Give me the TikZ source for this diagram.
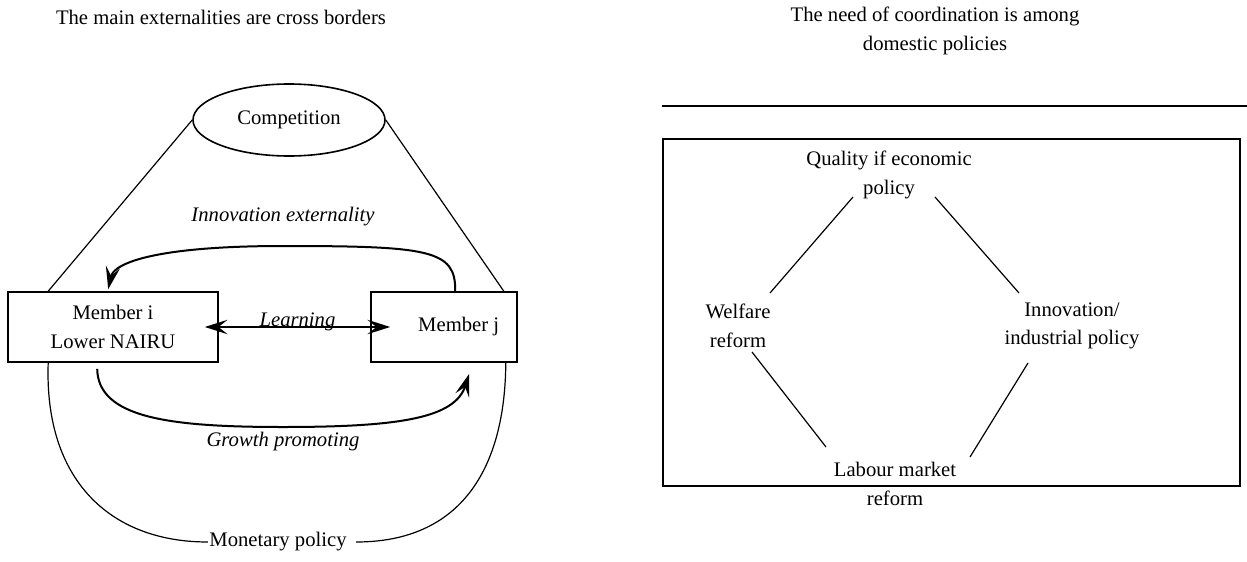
\documentclass[tikz,border=0pt]{standalone}
\usepackage{fontspec}
\setmainfont{Liberation Serif}
\usepackage{tikz}
\usetikzlibrary{positioning, arrows.meta, shapes.geometric, calc}

\begin{document}
\begin{tikzpicture}[
    x=0.75pt, y=-0.75pt,
    txt/.style={font=\fontsize{15.5}{21.5}\selectfont, align=center, inner sep=2pt},
    itxt/.style={txt, font=\fontsize{15.5}{21.5}\selectfont\itshape},
    member/.style={rectangle, draw=black, line width=1.2pt, minimum height=52.5pt,
                   font=\fontsize{15.5}{21.5}\selectfont, align=center},
    link/.style={line width=0.9pt},
    tip/.style={Stealth[length=6mm, width=3.8mm, inset=2.4mm]},
    arrow/.style={-{Stealth[length=6mm, width=3.8mm, inset=2.4mm]}, line width=1.5pt}
]
    \useasboundingbox (0,0) rectangle (1247,561);

    % Titles
    \node[txt] (titleL) at (221,17) {The main externalities are cross borders};
    \node[txt] (titleR) at (935,31) {The need of coordination is among\\domestic policies};

    % ---------------- Left panel ----------------
    % Competition
    \node[ellipse, draw=black, line width=1.2pt, minimum width=144pt, minimum height=54pt,
          txt] (comp) at (289,120) {Competition};

    % Members
    \node[member, minimum width=157.5pt] (mi) at (113,327) {Member i\\Lower NAIRU};
    \node[member, minimum width=109.5pt] (mj) at (444,327) {\hspace*{22pt}Member j};

    % Monetary policy
    \node[txt, inner sep=1pt] (mon) at (278,542) {Monetary policy};

    % Competition links
    \draw[link] (comp.west) -- ($(mi.north west)+(41,0)$);
    \draw[link] (comp.east) -- ($(mj.north east)+(-14,0)$);

    % Learning
    \draw[{Stealth[length=6mm, width=3.8mm, inset=2.4mm]}-{Stealth[length=6mm, width=3.8mm, inset=2.4mm]}, line width=1.5pt]
        ($(mi.east)+(-14,0)$) -- node[itxt, above=-6pt] (learn) {Learning}
        ($(mj.west)+(20,0)$);

    % Innovation externality
    \draw[arrow] ($(mj.north west)+(85,0)$) .. controls (456,250) and (430,246) .. (283,246)
        .. controls (160,246) and (114,262) .. ($(mi.north west)+(101,-2)$);
    \node[itxt] (innov) at (283,217) {Innovation externality};

    % Growth promoting
    \draw[arrow] ($(mi.south west)+(90,6)$) .. controls (98,418) and (170,427) .. (283,427)
        .. controls (400,427) and (455,418) .. ($(mj.south west)+(99,11)$);
    \node[itxt] (growth) at (283,442) {Growth promoting};

    % Monetary policy links
    \draw[link] ($(mi.south west)+(41,0)$) .. controls (44,480) and (110,542) .. (mon.west);
    \draw[link] (mon.east) ++(8,0) .. controls (460,542) and (505,470) .. ($(mj.south east)+(-12,0)$);

    % ---------------- Right panel ----------------
    \draw[line width=1.2pt] (662,106) -- (1247,106);
    \draw[line width=1.2pt] (663,139) rectangle (1240,486);

    \node[txt] (qual) at (889,175) {Quality if economic\\policy};
    \node[txt] (welf) at (738,326) {Welfare\\reform};
    \node[txt] (inno) at (1072,326) {Innovation/\\industrial policy};
    \node[txt] (lab) at (895,484) {Labour market\\reform};

    \draw[link] ($(qual)+(-36,22)$) -- ($(welf)+(32,-33)$);
    \draw[link] ($(qual)+(46,22)$) -- ($(inno)+(-53,-33)$);
    \draw[link] ($(welf)+(14,26)$) -- ($(lab)+(-69,-37)$);
    \draw[link] ($(inno)+(-44,37)$) -- ($(lab)+(75,-27)$);

\end{tikzpicture}
\end{document}
